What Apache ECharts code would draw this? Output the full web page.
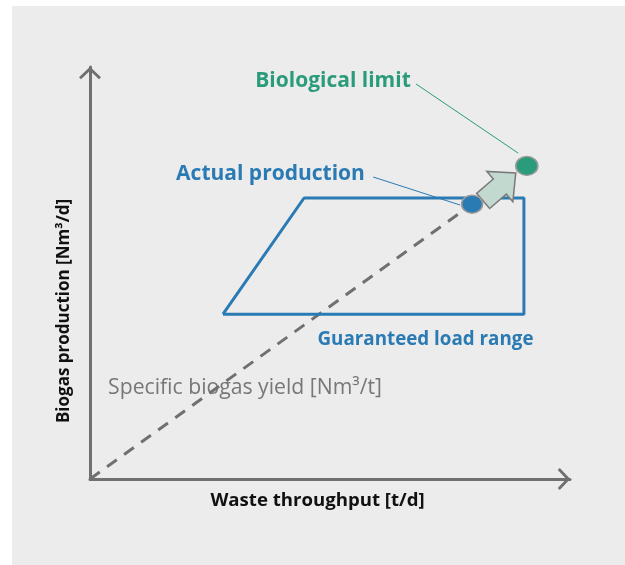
<!DOCTYPE html>
<html><head><meta charset="utf-8">
<script src="https://cdn.jsdelivr.net/npm/echarts@6/dist/echarts.min.js"></script>
<style>html,body{margin:0;padding:0;background:#fff}#c{width:625px;height:565px}</style>
</head><body><div id="c"></div>
<script>
// conceptual diagram values (axis units 0..100)
const yieldLineX = [0, 79.6];
const yieldLineY = [0, 66.7];
const loadRangeX = [27.7, 44.6, 90.4, 90.4, 27.7];
const loadRangeY = [40.0, 68.2, 68.2, 40.0, 40.0];
const actualPoint = [79.6, 66.7];
const limitPoint = [91.0, 76.0];
const increaseArrowX = [81.9, 88.7];
const increaseArrowY = [67.5, 74.3];
const actualLeaderX = [59.0, 77.1];
const actualLeaderY = [73.3, 66.5];
const limitLeaderX = [67.9, 89.2];
const limitLeaderY = [95.9, 79.1];

const labels = {
  x: 'Waste throughput [t/d]',
  y: 'Biogas production [Nm³/d]',
  yieldLbl: 'Specific biogas yield [Nm³/t]',
  load: 'Guaranteed load range',
  actual: 'Actual production',
  limit: 'Biological limit'
};

const pairs = (xs, ys) => xs.map((x, i) => [x, ys[i]]);
const BLUE = '#2a7ab4', GREEN = '#2a9b7b', AX = '#707070';
const FONT = '"Open Sans", "Noto Sans", sans-serif';
const chev = 'path://M0,10.5 L11,0 L22,10.5 L20,12.5 L11,4 L2,12.5 Z';

const chart = echarts.init(document.getElementById('c'));
chart.setOption({
  animation: false,
  backgroundColor: '#fff',
  grid: { left: 90, top: 67, right: 55, bottom: 86 },
  xAxis: { type: 'value', min: 0, max: 100, axisLabel: {show: false}, axisTick: {show: false}, splitLine: {show: false},
    axisLine: { lineStyle: { color: AX, width: 3 }, symbol: ['none', chev], symbolSize: [22, 12.5], symbolOffset: [0, -6] } },
  yAxis: { type: 'value', min: 0, max: 100, axisLabel: {show: false}, axisTick: {show: false}, splitLine: {show: false},
    axisLine: { lineStyle: { color: AX, width: 3 }, symbol: ['none', chev], symbolSize: [22, 12.5], symbolOffset: [0, -6] } },
  graphic: [
    { type: 'rect', z: -10, shape: { x: 12, y: 6, width: 613, height: 559 }, style: { fill: '#ececec' } },
    { type: 'text', x: 333, y: 81, style: { text: labels.limit, fill: GREEN, font: 'bold 21px ' + FONT, align: 'center', verticalAlign: 'middle' } },
    { type: 'text', x: 270.5, y: 174, style: { text: labels.actual, fill: BLUE, font: 'bold 21px ' + FONT, align: 'center', verticalAlign: 'middle' } },
    { type: 'text', x: 425.5, y: 340, style: { text: labels.load, fill: BLUE, font: 'bold 18.8px ' + FONT, align: 'center', verticalAlign: 'middle' } },
    { type: 'text', x: 245, y: 388, style: { text: labels.yieldLbl, fill: '#777', font: '21.2px ' + FONT, align: 'center', verticalAlign: 'middle' } },
    { type: 'text', x: 317.5, y: 501, style: { text: labels.x, fill: '#111', font: 'bold 18.6px ' + FONT, align: 'center', verticalAlign: 'middle' } },
    { type: 'text', x: 64, y: 311, rotation: Math.PI / 2, style: { text: labels.y, fill: '#111', font: 'bold 17px ' + FONT, align: 'center', verticalAlign: 'middle' } }
  ],
  series: [
    { type: 'line', data: pairs(yieldLineX, yieldLineY), symbol: 'none', z: 1,
      lineStyle: { color: AX, width: 3, type: [12, 9] } },
    { type: 'line', data: pairs(loadRangeX, loadRangeY), symbol: 'none', z: 2,
      lineStyle: { color: BLUE, width: 3 } },
    { type: 'line', data: pairs(actualLeaderX, actualLeaderY), symbol: 'none', z: 2,
      lineStyle: { color: BLUE, width: 1 } },
    { type: 'line', data: pairs(limitLeaderX, limitLeaderY), symbol: 'none', z: 2,
      lineStyle: { color: GREEN, width: 1 } },
    { type: 'custom', z: 3, data: [[increaseArrowX[0], increaseArrowY[0], increaseArrowX[1], increaseArrowY[1]]],
      renderItem: function (params, api) {
        const a = api.coord([api.value(0), api.value(1)]);
        const b = api.coord([api.value(2), api.value(3)]);
        const dx = b[0] - a[0], dy = b[1] - a[1];
        const L = Math.sqrt(dx * dx + dy * dy);
        const ux = dx / L, uy = dy / L, nx = -uy, ny = ux;
        const head = 21, hw = 20, sw = 10;
        const bx = b[0] - ux * head, by = b[1] - uy * head;
        const pts = [
          [a[0] + nx * sw, a[1] + ny * sw],
          [bx + nx * sw, by + ny * sw],
          [bx + nx * hw, by + ny * hw],
          b,
          [bx - nx * hw, by - ny * hw],
          [bx - nx * sw, by - ny * sw],
          [a[0] - nx * sw, a[1] - ny * sw]
        ];
        return { type: 'polygon', shape: { points: pts }, style: { fill: '#c2d9cf', stroke: '#7a7a7a', lineWidth: 1.5 } };
      } },
    { type: 'scatter', z: 4, data: [actualPoint], symbol: 'circle', symbolSize: [21, 18],
      itemStyle: { color: BLUE, borderColor: '#9a9a9a', borderWidth: 1.5, opacity: 1 } },
    { type: 'scatter', z: 4, data: [limitPoint], symbol: 'circle', symbolSize: [22, 19],
      itemStyle: { color: GREEN, borderColor: '#9a9a9a', borderWidth: 1.5, opacity: 1 } }
  ]
});
</script></body></html>
